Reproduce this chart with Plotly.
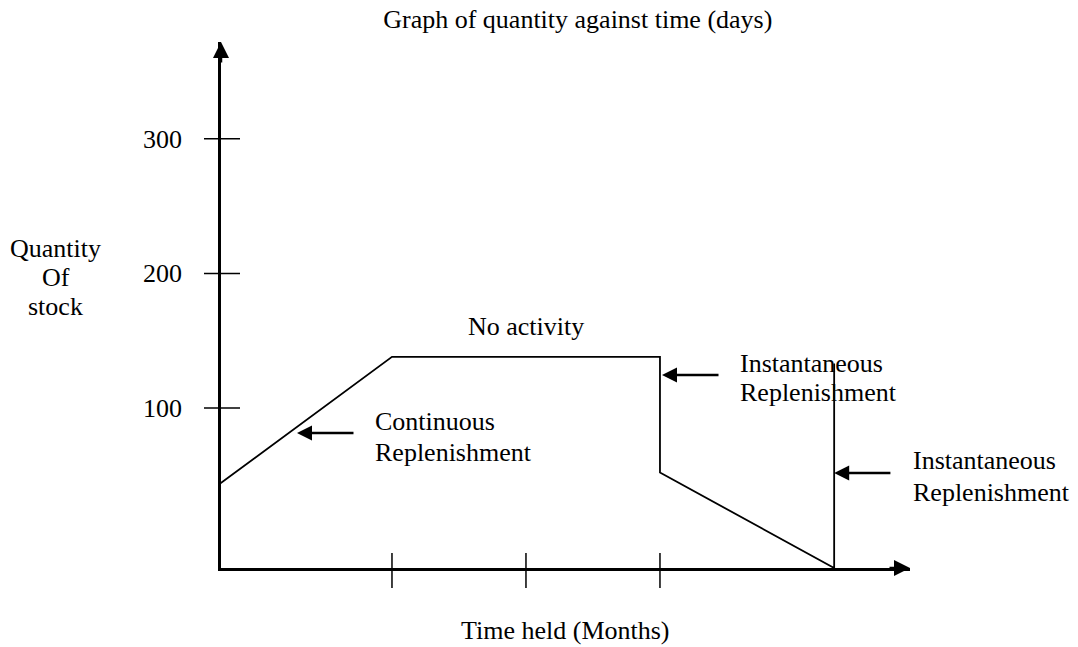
import plotly.graph_objects as go

# schematic stock level path (x in months, y in quantity of stock)
time_held = [-0.28, 1.0, 3.0, 3.0, 4.3, 4.3]
stock_qty = [44, 138, 138, 52, -19, 133]

y_tick_vals = [100, 200, 300]
y_tick_text = ['100', '200', '300']
x_tick_vals = [1, 2, 3]

x_range = [-0.276, 4.866]
y_range = [-19, 372]

FONT = dict(family='Liberation Serif, Times New Roman, serif', size=26, color='black')

fig = go.Figure()
fig.add_trace(go.Scatter(x=time_held, y=stock_qty, mode='lines',
                         line=dict(color='black', width=1.8), hoverinfo='skip', showlegend=False))

# crossing tick marks on both axes
for v in y_tick_vals:
    fig.add_shape(type='line', xref='paper', yref='y', xsizemode='pixel', xanchor=0,
                  x0=-17, x1=19, y0=v, y1=v, line=dict(color='black', width=1.5))
for v in x_tick_vals:
    fig.add_shape(type='line', xref='x', yref='paper', ysizemode='pixel', yanchor=0,
                  x0=v, x1=v, y0=-20, y1=15, line=dict(color='black', width=1.5))

# arrowheads at the ends of the axes
fig.add_annotation(xref='paper', yref='paper', x=0, y=1, ax=0, ay=22, text='', showarrow=True,
                   arrowhead=2, arrowwidth=2.5, arrowsize=1.28, arrowcolor='black')
fig.add_annotation(xref='paper', yref='paper', x=1, y=0, ax=-22, ay=0, text='', showarrow=True,
                   arrowhead=2, arrowwidth=2.5, arrowsize=1.28, arrowcolor='black')

# pointer arrows to the line segments
pointers = [((0.291, 81.4), (0.724, 81.4)),
            ((3.015, 124.5), (3.448, 124.5)),
            ((4.30, 51.7), (4.731, 51.7))]
for (tx, ty), (sx, sy) in pointers:
    fig.add_annotation(xref='x', yref='y', axref='x', ayref='y', x=tx, y=ty, ax=sx, ay=sy,
                       text='', showarrow=True, arrowhead=2, arrowwidth=2.5, arrowsize=1.2,
                       arrowcolor='black')

# text labels (paper coords), one annotation per line
labels = [
    ('Quantity', -0.2395, 0.607, 'center'),
    ('Of', -0.2395, 0.552, 'center'),
    ('stock', -0.2395, 0.497, 'center'),
    ('No activity', 0.4427, 0.460, 'center'),
    ('Continuous', 0.2206, 0.2776, 'left'),
    ('Replenishment', 0.2206, 0.2205, 'left'),
    ('Instantaneous', 0.7504, 0.3897, 'left'),
    ('Replenishment', 0.7504, 0.3327, 'left'),
    ('Instantaneous', 1.0015, 0.2053, 'left'),
    ('Replenishment', 1.0015, 0.1426, 'left'),
    ('Time held (Months)', 0.4993, -0.119, 'center'),
]
for txt, px, py, anchor in labels:
    fig.add_annotation(xref='paper', yref='paper', x=px, y=py, text=txt, showarrow=False,
                       xanchor=anchor, yanchor='middle', font=FONT)

fig.update_layout(
    width=1078, height=647,
    margin=dict(l=221, r=168, t=42, b=79),
    paper_bgcolor='white', plot_bgcolor='white',
    title=dict(text='Graph of quantity against time (days)', font=FONT,
               x=0.536, xref='container', xanchor='center', y=0.971, yref='container', yanchor='middle'),
    xaxis=dict(range=x_range, showgrid=False, zeroline=False, showline=True, linewidth=2.5,
               linecolor='black', showticklabels=False, ticks='', tickvals=x_tick_vals),
    yaxis=dict(range=y_range, showgrid=False, zeroline=False, showline=True, linewidth=2.5,
               linecolor='black', ticks='', tickvals=y_tick_vals, ticktext=y_tick_text,
               tickfont=FONT, ticklabelstandoff=31),
    showlegend=False,
)

# drop the default 8px page margin so the figure fills the window exactly
fig.write_html('out.html', config={'displayModeBar': False},
               post_script="document.body.style.margin = '0';")
